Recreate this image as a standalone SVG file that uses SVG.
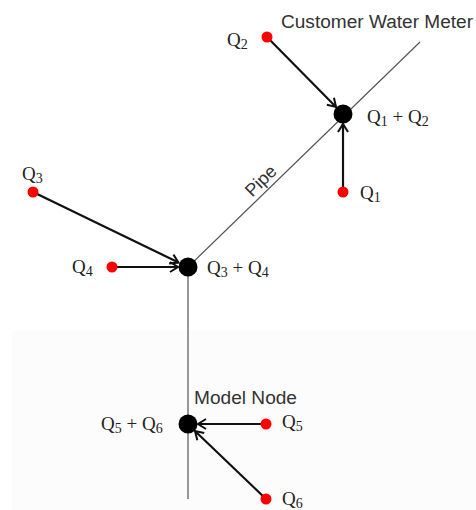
<svg xmlns="http://www.w3.org/2000/svg" width="476" height="510" viewBox="0 0 476 510">
  <style>
    .pipe { stroke: #555; stroke-width: 1.2; fill: none; }
    .flow { stroke: #111; stroke-width: 2.2; fill: none; marker-end: url(#arr); }
    .node { fill: #000; }
    .meter { fill: #f00; }
    .sans { font-family: "Liberation Sans", Arial, sans-serif; fill: #333; }
    .math { font-family: "Liberation Serif", "Times New Roman", serif; font-size: 19px; fill: #222; }
    .sub { font-size: 14px; }
  </style>
  <defs>
    <marker id="arr" markerUnits="userSpaceOnUse" markerWidth="20" markerHeight="20" viewBox="-10 -10 20 20" refX="0" refY="0" orient="auto">
      <path d="M -8 -5 L 0 0 L -8 5" fill="none" stroke="#111" stroke-width="2"/>
    </marker>
  </defs>
  <rect x="0" y="0" width="476" height="510" fill="#fff"/>
  <rect x="12" y="330" width="464" height="180" fill="#fcfcfc"/>

  <g id="pipes">
    <path class="pipe" d="M 420 42 L 188 267 L 188 499"/>
    <text class="sans" font-size="18" transform="translate(265,185) rotate(-44.5)" text-anchor="middle">Pipe</text>
  </g>

  <g id="connectors">
    <line class="flow" x1="267" y1="37" x2="336" y2="107"/>
    <line class="flow" x1="343" y1="192" x2="343" y2="124"/>
    <line class="flow" x1="33" y1="192" x2="178.5" y2="262.6"/>
    <line class="flow" x1="112" y1="267" x2="178" y2="267"/>
    <line class="flow" x1="266" y1="424" x2="198" y2="424"/>
    <line class="flow" x1="266" y1="499" x2="195" y2="431"/>
  </g>

  <g id="nodeA">
    <circle class="node" cx="343" cy="114" r="9.5"/>
    <text class="sans" x="281" y="28" font-size="18" textLength="192" lengthAdjust="spacingAndGlyphs">Customer Water Meter</text>
    <text class="math" x="367" y="123">Q<tspan class="sub" dy="3">1</tspan><tspan dy="-3"> + Q</tspan><tspan class="sub" dy="3">2</tspan></text>
  </g>
  <g id="nodeB">
    <circle class="node" cx="188" cy="267" r="9.5"/>
    <text class="math" x="207" y="274">Q<tspan class="sub" dy="3">3</tspan><tspan dy="-3"> + Q</tspan><tspan class="sub" dy="3">4</tspan></text>
  </g>
  <g id="nodeC">
    <circle class="node" cx="188" cy="424" r="9.5"/>
    <text class="sans" x="194" y="404" font-size="18" textLength="103" lengthAdjust="spacingAndGlyphs">Model Node</text>
    <text class="math" x="101" y="430">Q<tspan class="sub" dy="3">5</tspan><tspan dy="-3"> + Q</tspan><tspan class="sub" dy="3">6</tspan></text>
  </g>

  <g id="q1">
    <circle class="meter" cx="343" cy="192" r="5.5"/>
    <text class="math" x="360" y="199">Q<tspan class="sub" dy="3">1</tspan></text>
  </g>
  <g id="q2">
    <circle class="meter" cx="267" cy="37" r="5.5"/>
    <text class="math" x="227" y="46">Q<tspan class="sub" dy="3">2</tspan></text>
  </g>
  <g id="q3">
    <circle class="meter" cx="33" cy="192" r="5.5"/>
    <text class="math" x="22" y="180">Q<tspan class="sub" dy="3">3</tspan></text>
  </g>
  <g id="q4">
    <circle class="meter" cx="112" cy="267" r="5.5"/>
    <text class="math" x="72" y="273">Q<tspan class="sub" dy="3">4</tspan></text>
  </g>
  <g id="q5">
    <circle class="meter" cx="266" cy="424" r="5.5"/>
    <text class="math" x="282" y="428">Q<tspan class="sub" dy="3">5</tspan></text>
  </g>
  <g id="q6">
    <circle class="meter" cx="266" cy="499" r="5.5"/>
    <text class="math" x="282" y="505">Q<tspan class="sub" dy="3">6</tspan></text>
  </g>
</svg>
